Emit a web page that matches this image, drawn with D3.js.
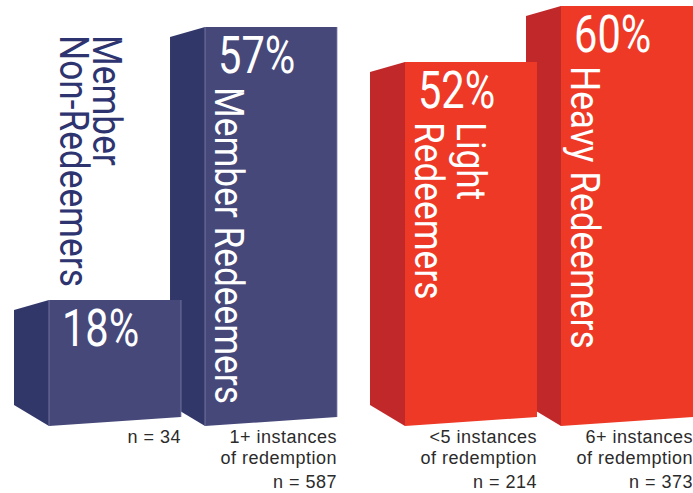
<!DOCTYPE html>
<html><head><meta charset="utf-8">
<script src="https://cdn.jsdelivr.net/npm/d3@7"></script>
<style>html,body{margin:0;padding:0;background:#fff;} svg{display:block;}</style>
</head><body>
<svg id="chart" width="693" height="493"></svg>
<script>
// ---- data ----
const categories = ["Member Non-Redeemers", "Member Redeemers", "Light Redeemers", "Heavy Redeemers"];
const groups = ["Member", "Member", "Redeemer", "Redeemer"];
const groupNames = ["Member", "Redeemer"];
const values = [18, 57, 52, 60];
const nameLines = [["Member", "Non-Redeemers"], ["Member Redeemers"], ["Light", "Redeemers"], ["Heavy Redeemers"]];
const subLines = [[], ["1+ instances", "of redemption"], ["<5 instances", "of redemption"], ["6+ instances", "of redemption"]];
const sampleSizes = [34, 587, 214, 373];

// ---- styles ----
const frontColor = {Member: "#46487a", Redeemer: "#ee3926"};
const sideColor = {Member: "#32376a", Redeemer: "#c1282a"};
const edgeColor = {Member: "#7d7fa8", Redeemer: "#f0553f"};
const outsideLabelColor = "#2e3470";

const W = 693, H = 493;
const baseY = 426;
const depthX = 35, depthTop = 10, depthBottom = 21, frontSlant = 9;
const lineGapOutside = 33, lineGapInside = 42;
const condNames = 0.86, condValues = 0.8;

const svg = d3.select("#chart");

const x0 = d3.scaleBand().domain(groupNames).range([49, W]).paddingInner(0.191).paddingOuter(0);
const x1 = d3.scaleBand().domain([0, 1]).range([0, x0.bandwidth()]).paddingInner(0.154).paddingOuter(0);
const y = d3.scaleLinear().domain([0, 60]).range([baseY, 6]);

const data = categories.map((c, i) => {
  const idxInGroup = groups.slice(0, i).filter(g => g === groups[i]).length;
  return {
    cat: c, group: groups[i], value: values[i], names: nameLines[i],
    sub: subLines[i], n: sampleSizes[i],
    x: x0(groups[i]) + x1(idxInGroup), w: x1.bandwidth(), i
  };
});

// draw right-to-left so nearer-left bars overlap the sides of bars to their right
const bars = svg.selectAll("g.bar").data(data.slice().reverse()).join("g").attr("class", "bar");

bars.append("path")
  .attr("d", d => {
    const top = y(d.value);
    return `M${d.x - depthX},${top + depthTop} L${d.x},${top} L${d.x},${baseY} L${d.x - depthX},${baseY - depthBottom} Z`;
  })
  .attr("fill", d => sideColor[d.group]);

bars.append("path")
  .attr("d", d => {
    const top = y(d.value);
    return `M${d.x},${top} L${d.x + d.w},${top} L${d.x + d.w},${baseY - frontSlant} L${d.x},${baseY} Z`;
  })
  .attr("fill", d => frontColor[d.group]);

bars.filter(d => d.group === "Member").append("path")
  .attr("d", d => {
    const top = y(d.value);
    return `M${d.x},${top} L${d.x},${baseY} M${d.x + d.w},${top} L${d.x + d.w},${baseY - frontSlant}`;
  })
  .attr("stroke", d => edgeColor[d.group]).attr("stroke-width", 0.8).attr("fill", "none");

// value labels
bars.append("text")
  .attr("transform", d => `translate(${d.x + 13},${y(d.value) + 46}) scale(${condValues},1)`)
  .attr("font-family", "Roboto, 'Liberation Sans', sans-serif")
  .attr("font-weight", 400)
  .attr("font-size", 52)
  .attr("fill", "#fff")
  .text(d => d.value + "%");

// rotated category names
bars.each(function(d) {
  const g = d3.select(this);
  const outside = d.i === 0;
  const startY = outside ? 35 : y(d.value) + 60;
  const lastBaseX = d.x + (outside ? 11 : 10);
  const gap = outside ? lineGapOutside : lineGapInside;
  const nL = d.names.length;
  d.names.forEach((line, k) => {
    const bx = lastBaseX + (nL - 1 - k) * gap;
    g.append("text")
      .attr("transform", `translate(${bx},${startY}) rotate(90) scale(${condNames},1)`)
      .attr("font-family", "Roboto, 'Liberation Sans', sans-serif")
      .attr("font-weight", 400)
      .attr("font-size", 41)
      .attr("fill", outside ? outsideLabelColor : "#fff")
      .text(line);
  });
  // bottom labels
  const rx = d.x + d.w;
  d.sub.forEach((line, k) => {
    g.append("text")
      .attr("x", rx).attr("y", 443 + k * 20.5)
      .attr("text-anchor", "end")
      .attr("font-family", "'Liberation Sans', Arial, sans-serif")
      .attr("font-size", 18)
      .attr("letter-spacing", 0.5)
      .attr("fill", "#2b2b2b")
      .text(line);
  });
  g.append("text")
    .attr("x", rx).attr("y", d.sub.length ? 488 : 443)
    .attr("text-anchor", "end")
    .attr("font-family", "'Liberation Sans', Arial, sans-serif")
    .attr("font-size", 18)
    .attr("letter-spacing", 0.5)
    .attr("fill", "#2b2b2b")
    .text("n = " + d.n);
});
</script>
</body></html>
